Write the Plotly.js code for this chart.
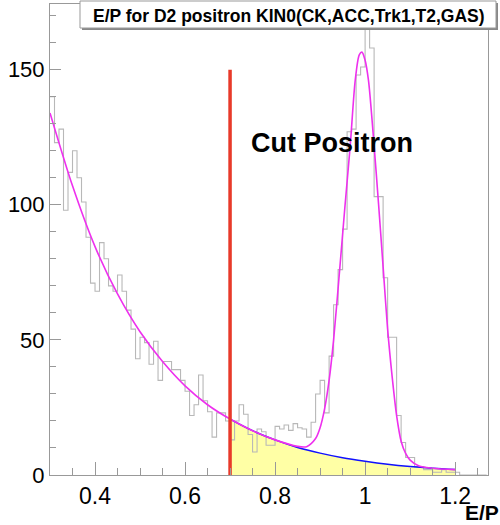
<!DOCTYPE html>
<html><head><meta charset="utf-8">
<script src="https://cdn.plot.ly/plotly-3.0.1.min.js"></script>
<style>body{margin:0;background:#fff}#c{width:500px;height:525px}</style>
</head><body><div id="c"></div>
<script>
// Histogram: E/P, bins of 0.01 starting at 0.30
const binStart = 0.30;
const binWidth = 0.01;
const counts = [
 140,123,128,98,112,120,110,101,88,71,      // 0.30-0.39
 68,86,80,70,68,74,68,61,54,43,             // 0.40-0.49
 51,49,41,49.5,35,42,42,39,39,35,           // 0.50-0.59
 31,22,26,37,27.5,23.4,14,23,23,20,         // 0.60-0.69
 13,20,26,22.5,15,8.5,17,16,11,11,          // 0.70-0.79
 18,17,18.5,16.5,19,17.5,17,14,19.5,30,     // 0.80-0.89
 35,23,44,63,76,91,127,128,148,151,         // 0.90-0.99
 166,158,103,103,73,51,51,22,12,6.5,        // 1.00-1.09
 6.5,3,3,2,2,1,1,2,1,1,                     // 1.10-1.19
 1,0,0,0,0,0,0                              // 1.20-1.26
];
// total fit (magenta)
const fitE = [0.30,0.35,0.40,0.45,0.50,0.55,0.60,0.65,0.70,0.75,0.80,0.85,0.87,0.89,0.90,0.91,0.92,0.93,0.944,0.955,0.967,0.978,0.987,0.993,1.000,1.0075,1.0185,1.03,1.04,1.05,1.06,1.07,1.08,1.09,1.10,1.12,1.15,1.20];
const fitV = [134,107,84.5,67,53,42,33,26,20.7,16.4,13,10.6,10.5,13.5,17.5,24.5,35,50,77,99,122,146,155.5,156.5,153.5,146,125,100,77,54,36.5,22,12.5,8,5.5,3.3,2.5,2.0];
// background (blue) under the cut region
const bgE = [0.70,0.75,0.80,0.85,0.90,0.95,1.00,1.05,1.10,1.15,1.20];
const bgV = [20.7,16.4,13,10.2,8.1,6.4,5.1,4.0,3.15,2.5,2.0];
// cut line
const cutE = [0.70,0.70];
const cutV = [0,150];
// ticks
const xTickVals = [0.4,0.6,0.8,1.0,1.2];
const xTickText = ["0.4","0.6","0.8","1","1.2"];
const yTickVals = [0,50,100,150];
const yTickText = ["0","50","100","150"];

const edges = counts.map((_, i) => +(binStart + i*binWidth).toFixed(4));
edges.push(+(binStart + counts.length*binWidth).toFixed(4));
const stepY = counts.concat([counts[counts.length-1]]);

const FONT = "Liberation Sans, Arial, Helvetica, sans-serif";
const traces = [
 {x: bgE, y: bgV, type:'scatter', mode:'lines', fill:'tozeroy', fillcolor:'rgb(255,255,165)', line:{width:0, color:'rgba(0,0,0,0)'}, hoverinfo:'skip'},
 {x: edges, y: stepY, type:'scatter', mode:'lines', line:{shape:'hv', color:'#b8b8b8', width:1.1}},
 {x: bgE, y: bgV, type:'scatter', mode:'lines', line:{shape:'spline', color:'#1010ff', width:1.5}},
 {x: fitE, y: fitV, type:'scatter', mode:'lines', line:{shape:'spline', smoothing:0.8, color:'#ee30ee', width:1.6}},
 {x: cutE, y: cutV, type:'scatter', mode:'lines', line:{color:'#e83a2a', width:3.5}}
];

const layout = {
 width:500, height:525,
 margin:{l:50, r:12, t:4, b:50},
 paper_bgcolor:'#fff', plot_bgcolor:'#fff',
 showlegend:false,
 font:{family:FONT, color:'#000', size:22},
 xaxis:{range:[0.30,1.273], showgrid:false, zeroline:false, showline:true, mirror:true,
   linecolor:'#999', linewidth:1, ticks:'inside', ticklen:13, tickcolor:'#999', tickwidth:1,
   tickvals:xTickVals, ticktext:xTickText, tickfont:{size:23, family:FONT},
   minor:{dtick:0.05, ticks:'inside', ticklen:7, tickcolor:'#999', showgrid:false}},
 yaxis:{range:[0,174.3], showgrid:false, zeroline:false, showline:true, mirror:true,
   linecolor:'#999', linewidth:1, ticks:'inside', ticklen:11, tickcolor:'#999', tickwidth:1,
   tickvals:yTickVals, ticktext:yTickText, tickfont:{size:22, family:FONT},
   minor:{dtick:10, ticks:'inside', ticklen:6, tickcolor:'#999', showgrid:false}},
 shapes:[
  {type:'rect', xref:'paper', yref:'paper', x0:(82-50)/438, x1:(498-50)/438, y0:(475-30)/471, y1:(475-3)/471,
   fillcolor:'#888', line:{width:0}, layer:'above'},
  {type:'rect', xref:'paper', yref:'paper', x0:(80-50)/438, x1:(496-50)/438, y0:(475-28)/471, y1:(475-1)/471,
   fillcolor:'#fff', line:{width:1, color:'#999'}, layer:'above'}
 ],
 annotations:[
  {xref:'paper', yref:'paper', x:(289-50)/438, y:(475-16)/471, xanchor:'center', yanchor:'middle',
   text:'<b>E/P for D2 positron KIN0(CK,ACC,Trk1,T2,GAS)</b>', showarrow:false, font:{size:17.5, family:FONT, color:'#000'}},
  {xref:'x', yref:'y', x:0.742, y:122.7, xanchor:'left', yanchor:'middle',
   text:'<b>Cut Positron</b>', showarrow:false, font:{size:27, family:FONT, color:'#000'}},
  {xref:'paper', yref:'paper', x:(500-50)/438, y:(475-525)/471, xanchor:'right', yanchor:'bottom',
   text:'<b>E/P</b>', showarrow:false, font:{size:21, family:FONT, color:'#000'}, borderpad:0}
 ]
};
Plotly.newPlot('c', traces, layout, {displayModeBar:false, staticPlot:true});
</script>
</body></html>
